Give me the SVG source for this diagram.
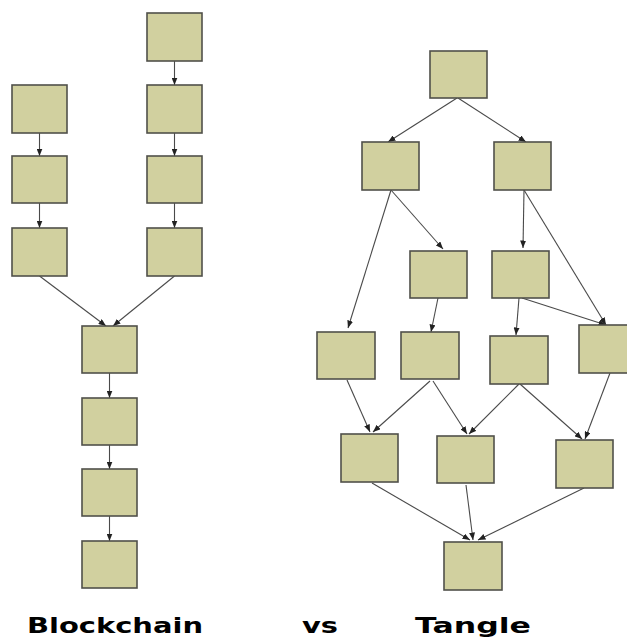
<svg xmlns="http://www.w3.org/2000/svg" width="627" height="638" viewBox="0 0 627 638">
<style>
.box{fill:#d1d09f;stroke:#50504a;stroke-width:1.6}
.edge{stroke:#4a4a4a;stroke-width:1.1;fill:none;marker-end:url(#ah)}
.lbl{font-family:"DejaVu Sans","Verdana",sans-serif;font-weight:bold;font-size:21.5px;fill:#000}
</style>
<defs>
<marker id="ah" markerUnits="userSpaceOnUse" markerWidth="8" markerHeight="6" refX="7.5" refY="3" orient="auto">
<path d="M0,0 L7.5,3 L0,6 z" fill="#222"/>
</marker>
</defs>
<rect width="627" height="638" fill="#fff"/>
<g id="connectors">
<line class="edge" x1="39.5" y1="133" x2="39.5" y2="156"/>
<line class="edge" x1="39.5" y1="203" x2="39.5" y2="228"/>
<line class="edge" x1="174.5" y1="61" x2="174.5" y2="85"/>
<line class="edge" x1="174.5" y1="133" x2="174.5" y2="156"/>
<line class="edge" x1="174.5" y1="203" x2="174.5" y2="228"/>
<line class="edge" x1="39.5" y1="276" x2="106" y2="326"/>
<line class="edge" x1="174.5" y1="276" x2="113" y2="326"/>
<line class="edge" x1="109.5" y1="373" x2="109.5" y2="398"/>
<line class="edge" x1="109.5" y1="445" x2="109.5" y2="469"/>
<line class="edge" x1="109.5" y1="516" x2="109.5" y2="541"/>
<line class="edge" x1="457" y1="98" x2="388" y2="142"/>
<line class="edge" x1="458" y1="98" x2="526" y2="142"/>
<line class="edge" x1="391" y1="190" x2="443" y2="249"/>
<line class="edge" x1="391" y1="190" x2="348" y2="328"/>
<line class="edge" x1="524" y1="190" x2="523" y2="248"/>
<line class="edge" x1="524" y1="190" x2="606" y2="325"/>
<line class="edge" x1="438" y1="298" x2="431" y2="332"/>
<line class="edge" x1="519" y1="298" x2="516" y2="335"/>
<line class="edge" x1="522" y1="298" x2="606" y2="325"/>
<line class="edge" x1="347" y1="380" x2="370" y2="432"/>
<line class="edge" x1="430" y1="381" x2="373" y2="432"/>
<line class="edge" x1="433" y1="381" x2="467" y2="434"/>
<line class="edge" x1="519" y1="384" x2="469" y2="434"/>
<line class="edge" x1="520" y1="384" x2="582" y2="439"/>
<line class="edge" x1="610" y1="373" x2="585" y2="439"/>
<line class="edge" x1="372" y1="483" x2="470" y2="540"/>
<line class="edge" x1="466" y1="485" x2="473" y2="540"/>
<line class="edge" x1="584" y1="488" x2="478" y2="540"/>
</g>
<g id="b1"><rect class="box" x="12" y="85" width="55" height="48"/></g>
<g id="b2"><rect class="box" x="12" y="156" width="55" height="47"/></g>
<g id="b3"><rect class="box" x="12" y="228" width="55" height="48"/></g>
<g id="b4"><rect class="box" x="147" y="13" width="55" height="48"/></g>
<g id="b5"><rect class="box" x="147" y="85" width="55" height="48"/></g>
<g id="b6"><rect class="box" x="147" y="156" width="55" height="47"/></g>
<g id="b7"><rect class="box" x="147" y="228" width="55" height="48"/></g>
<g id="b8"><rect class="box" x="82" y="326" width="55" height="47"/></g>
<g id="b9"><rect class="box" x="82" y="398" width="55" height="47"/></g>
<g id="b10"><rect class="box" x="82" y="469" width="55" height="47"/></g>
<g id="b11"><rect class="box" x="82" y="541" width="55" height="47"/></g>
<g id="t1"><rect class="box" x="430" y="51" width="57" height="47"/></g>
<g id="t2"><rect class="box" x="362" y="142" width="57" height="48"/></g>
<g id="t3"><rect class="box" x="494" y="142" width="57" height="48"/></g>
<g id="t4"><rect class="box" x="410" y="251" width="57" height="47"/></g>
<g id="t5"><rect class="box" x="492" y="251" width="57" height="47"/></g>
<g id="t6"><rect class="box" x="317" y="332" width="58" height="47"/></g>
<g id="t7"><rect class="box" x="401" y="332" width="58" height="47"/></g>
<g id="t8"><rect class="box" x="490" y="336" width="58" height="48"/></g>
<g id="t9"><rect class="box" x="579" y="325" width="58" height="48"/></g>
<g id="t10"><rect class="box" x="341" y="434" width="57" height="48"/></g>
<g id="t11"><rect class="box" x="437" y="436" width="57" height="47"/></g>
<g id="t12"><rect class="box" x="556" y="440" width="57" height="48"/></g>
<g id="t13"><rect class="box" x="444" y="542" width="58" height="48"/></g>
<g id="labels">
<text class="lbl" x="27" y="633" textLength="176" lengthAdjust="spacingAndGlyphs">Blockchain</text>
<text class="lbl" x="302" y="633" textLength="36" lengthAdjust="spacingAndGlyphs">vs</text>
<text class="lbl" x="415" y="633" textLength="116" lengthAdjust="spacingAndGlyphs">Tangle</text>
</g>
</svg>
